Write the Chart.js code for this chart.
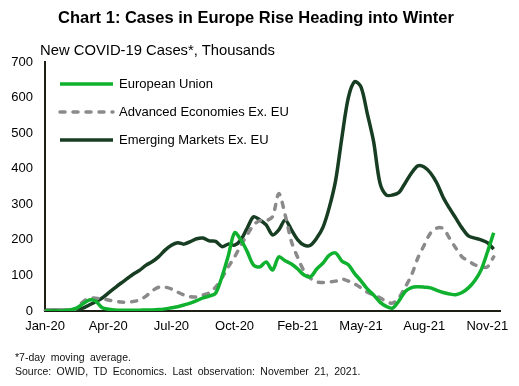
<!DOCTYPE html>
<html>
<head>
<meta charset="utf-8">
<script src="https://cdn.jsdelivr.net/npm/chart.js@4.4.1/dist/chart.umd.min.js"></script>
<style>
  body { margin: 0; background: #fff; }
  #wrap { position: relative; width: 519px; height: 386px; font-family: "Liberation Sans", Arial, sans-serif; color: #000; }
  #chart { position: absolute; left: 0; top: 0; }
  .title { position: absolute; left: 0; top: 7px; width: 512px; text-align: center; font-weight: bold; font-size: 16.5px; line-height: 20px; }
  .sub { position: absolute; left: 40px; top: 42px; font-size: 14.8px; line-height: 17px; }
  .note { position: absolute; left: 15px; top: 351px; font-size: 10.5px; line-height: 13.5px; word-spacing: 2.5px; color: #111; }
</style>
</head>
<body>
<div id="wrap">
  <canvas id="chart" width="519" height="386"></canvas>
  <div class="title">Chart 1: Cases in Europe Rise Heading into Winter</div>
  <div class="sub">New COVID-19 Cases*, Thousands</div>
  <div class="note">*7-day moving average.<br>Source: OWID, TD Economics. Last observation: November 21, 2021.</div>
</div>
<script>
// ===========================
// DATA (thousands of new cases, 7-day avg, ~9-day steps from Jan 22, 2020)
// ===========================

const seriesNames = ['European Union', 'Advanced Economies Ex. EU', 'Emerging Markets Ex. EU'];

const euCases = [0, 0, 0, 1, 3, 8, 20, 31, 28, 10, 5, 3, 2, 2, 2, 2, 3, 3, 4, 6,
  9, 12, 17, 22, 29, 37, 42, 50, 96, 155, 220, 200, 167, 129, 124, 138, 115, 152, 141, 132,
  118, 101, 96, 118, 135, 157, 163, 140, 130, 105, 85, 62, 45, 25, 13, 8, 28, 55, 66, 68,
  67, 65, 58, 52, 48, 46, 52, 65, 85, 115, 165, 220];

const advancedCases = [0, 0, 0, 1, 2, 8, 26, 36, 36, 34, 31, 28, 25, 25, 27, 31, 42, 57, 67, 67,
  62, 53, 45, 40, 40, 45, 51, 67, 93, 124, 152, 185, 214, 242, 254, 254, 265, 330, 270, 195,
  150, 112, 92, 82, 80, 82, 84, 90, 84, 76, 65, 53, 45, 37, 27, 22, 37, 67, 101, 149,
  185, 219, 233, 232, 205, 177, 152, 141, 130, 124, 124, 152];

const emergingCases = [2, 2, 2, 2, 2, 3, 8, 17, 26, 36, 50, 64, 78, 91, 104, 115, 129, 139, 153, 171,
  185, 192, 188, 195, 203, 205, 197, 196, 181, 188, 185, 200, 233, 265, 256, 242, 214, 228, 256, 228,
  200, 185, 185, 205, 236, 292, 368, 490, 600, 645, 630, 555, 476, 360, 326, 326, 333, 360, 388, 408,
  405, 388, 360, 320, 289, 261, 233, 211, 205, 200, 192, 174];

const tickIndex = [0, 10, 20, 30, 40, 50, 60, 70];
const tickLabels = ['Jan-20', 'Apr-20', 'Jul-20', 'Oct-20', 'Feb-21', 'May-21', 'Aug-21', 'Nov-21'];

// categories: one date per step, plus one empty slot so the axis runs a bit past the last point
const categories = [];
const start = new Date(2020, 0, 22);
for (let i = 0; i <= euCases.length; i++) {
    const d = new Date(start.getTime() + i * 9.4 * 86400000);
    categories.push(d.toISOString().slice(0, 10));
}

const FONT = '"Liberation Sans", Arial, sans-serif';
const AXIS_COLOR = '#1e1f14';

// ===========================
// LEGEND DRAWN INSIDE THE PLOT
// ===========================

const insideLegend = {
    id: 'insideLegend',
    afterDraw(chart) {
        const { ctx, chartArea } = chart;
        chart.data.datasets.forEach((ds, i) => {
            const y = chartArea.top + 22 + i * 28;
            const x0 = chartArea.left + 15;
            ctx.save();
            ctx.strokeStyle = ds.borderColor;
            ctx.lineWidth = 3.5;
            ctx.lineCap = ds.borderCapStyle || 'butt';
            ctx.setLineDash(ds.borderDash || []);
            ctx.beginPath();
            ctx.moveTo(x0, y);
            ctx.lineTo(x0 + 53, y);
            ctx.stroke();
            ctx.setLineDash([]);
            ctx.fillStyle = '#000';
            ctx.font = '13px ' + FONT;
            ctx.textBaseline = 'middle';
            ctx.fillText(ds.label, x0 + 59, y);
            ctx.restore();
        });
    }
};

new Chart(document.getElementById('chart'), {
    type: 'line',
    data: {
        labels: categories,
        datasets: [
            {
                label: seriesNames[0],
                data: euCases,
                borderColor: '#0fb12e',
                borderWidth: 3.5,
                pointRadius: 0,
                tension: 0.3
            },
            {
                label: seriesNames[1],
                data: advancedCases,
                borderColor: '#8a8a8a',
                borderWidth: 3.5,
                borderDash: [5, 8],
                borderCapStyle: 'round',
                pointRadius: 0,
                tension: 0.3
            },
            {
                label: seriesNames[2],
                data: emergingCases,
                borderColor: '#173d22',
                borderWidth: 3.5,
                pointRadius: 0,
                tension: 0.3
            }
        ]
    },
    options: {
        responsive: false,
        animation: false,
        devicePixelRatio: 1,
        layout: { padding: { top: 62, right: 19, left: 0, bottom: 0 } },
        plugins: {
            legend: { display: false },
            tooltip: { enabled: false }
        },
        scales: {
            x: {
                type: 'category',
                offset: false,
                grid: { display: false, drawTicks: false },
                border: { display: true, color: AXIS_COLOR, width: 2 },
                ticks: {
                    autoSkip: false,
                    maxRotation: 0,
                    padding: 8,
                    color: '#000',
                    font: { family: FONT, size: 13 },
                    callback: function(value) {
                        const k = tickIndex.indexOf(value);
                        return k >= 0 ? tickLabels[k] : '';
                    }
                },
                afterFit(scale) { scale.height = 75; }
            },
            y: {
                min: 0,
                max: 700,
                grid: { display: false, drawTicks: false },
                border: { display: true, color: AXIS_COLOR, width: 2 },
                ticks: {
                    stepSize: 100,
                    padding: 12,
                    color: '#000',
                    font: { family: FONT, size: 13 }
                },
                afterFit(scale) { scale.width = 45; }
            }
        }
    },
    plugins: [insideLegend]
});
</script>
</body>
</html>
